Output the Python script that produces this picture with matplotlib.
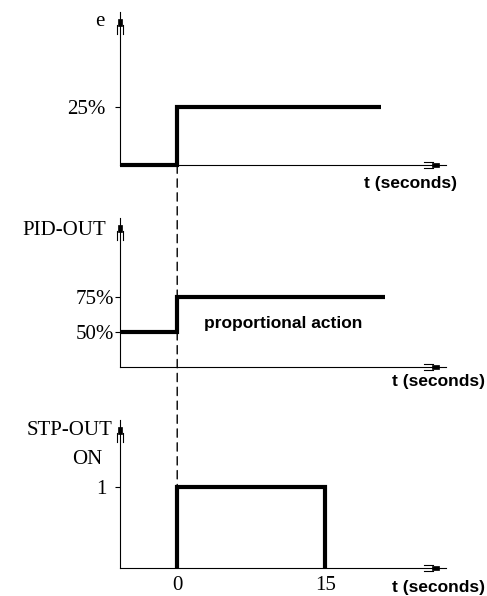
import matplotlib.pyplot as plt
from matplotlib.patches import ConnectionPatch, Polygon
from matplotlib.lines import Line2D
from matplotlib.transforms import ScaledTranslation

# signal traces (time in seconds)
t_e = [-5.8, 0, 20.7]
e_vals = [0, 25, 25]

t_pid = [-5.8, 0, 21.1]
pid_vals = [50, 75, 75]

t_stp = [0, 0, 15, 15]
stp_vals = [0, 1, 1, 0]

t_ticks = [0, 15]
t_ticklabels = ['0', '15']

SERIF = 'Liberation Serif'
SANS = 'Liberation Sans'
DPI = 100

fig = plt.figure(figsize=(4.87, 5.96), dpi=DPI)
left, width = 120 / 487, 326 / 487
ax1 = fig.add_axes([left, 1 - 165 / 596, width, 153 / 596])
ax2 = fig.add_axes([left, 1 - 367 / 596, width, 149 / 596])
ax3 = fig.add_axes([left, 1 - 568 / 596, width, 148 / 596])


def axis_arrow(ax, horizontal):
    # little feathered arrow head at the end of an axis line
    if horizontal:
        base = ScaledTranslation(1, 0, ax.transAxes)
    else:
        base = ScaledTranslation(0, 1, ax.transAxes)
    trans = fig.dpi_scale_trans + base

    def pt(back, side):
        # back: px from tip along axis, side: px across
        if horizontal:
            return (-back / DPI, side / DPI)
        return (side / DPI, -back / DPI)

    rect = [pt(7, -2), pt(14, -2), pt(14, 2), pt(7, 2)]
    ax.add_patch(Polygon(rect, closed=True, fc='black', ec='black', lw=0.5,
                         transform=trans, clip_on=False))
    for s in (-3, 3):
        xa, ya = pt(13, s)
        xb, yb = pt(22, s)
        ax.add_line(Line2D([xa, xb], [ya, yb], color='black', lw=0.8,
                           transform=trans, clip_on=False))


def base_axes(ax, ylim):
    ax.set_xlim(-5.8, 27.25)
    ax.set_ylim(*ylim)
    for side in ('top', 'right'):
        ax.spines[side].set_visible(False)
    for side in ('left', 'bottom'):
        ax.spines[side].set_linewidth(0.8)
    ax.set_xticks([])
    ax.tick_params(axis='y', length=3.6, width=0.8, labelsize=15)
    axis_arrow(ax, True)
    axis_arrow(ax, False)


def t_label(ax, x, y):
    ax.text(x, y, 't (seconds)', transform=ax.transAxes, ha='right', va='center',
            fontsize=12.5, fontweight='bold', family=SANS)


trace = dict(color='black', lw=3, solid_capstyle='butt',
             solid_joinstyle='miter', clip_on=False)

# error e
base_axes(ax1, (0, 65.9))
ax1.step(t_e, e_vals, where='post', **trace)
ax1.set_yticks([25], ['25%'], family=SERIF, fontsize=15)
ax1.tick_params(axis='y', pad=7)
ax1.text(-0.0615, 0.935, 'e', transform=ax1.transAxes, ha='center', va='center',
         fontsize=15, family=SERIF)
t_label(ax1, 1.034, -0.118)

# PID output
base_axes(ax2, (25, 131.4))
ax2.step(t_pid, pid_vals, where='post', **trace)
ax2.set_yticks([50, 75], ['50%', '75%'], family=SERIF, fontsize=15)
ax2.tick_params(axis='y', pad=0.5)
ax2.text(-0.043, 0.919, 'PID-OUT', transform=ax2.transAxes, ha='right',
         va='center', fontsize=15, family=SERIF)
ax2.text(0.5, 0.295, 'proportional action', transform=ax2.transAxes,
         ha='center', va='center', fontsize=12.5, fontweight='bold', family=SANS)
t_label(ax2, 1.12, -0.10)

# step output
base_axes(ax3, (0, 1.827))
ax3.plot(t_stp, stp_vals, **trace)
ax3.set_yticks([1], ['1'], family=SERIF, fontsize=15)
ax3.tick_params(axis='y', pad=5.8)
ax3.set_xticks(t_ticks, t_ticklabels, family=SERIF, fontsize=15)
ax3.tick_params(axis='x', length=0, pad=6)
ax3.text(-0.0215, 0.932, 'STP-OUT', transform=ax3.transAxes, ha='right',
         va='center', fontsize=15, family=SERIF)
ax3.text(-0.1015, 0.73, 'ON', transform=ax3.transAxes, ha='center',
         va='center', fontsize=15, family=SERIF)
t_label(ax3, 1.12, -0.13)

# dashed marker at t = 0 running through all three plots
con = ConnectionPatch(xyA=(0, 0), coordsA=ax1.transData,
                      xyB=(0, 1), coordsB=ax3.transData,
                      color='black', lw=1, linestyle=(0, (6, 4)))
fig.add_artist(con)

fig.savefig('out.png', dpi=DPI)
